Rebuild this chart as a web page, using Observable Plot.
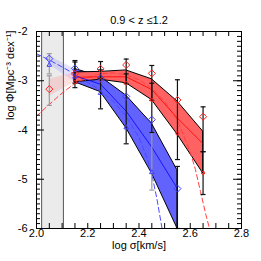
<!DOCTYPE html>
<html><head><meta charset="utf-8">
<script src="https://cdn.jsdelivr.net/npm/d3@7"></script>
<script src="https://cdn.jsdelivr.net/npm/@observablehq/plot@0.6"></script>
<style>body{margin:0;background:#fff} svg{display:block}</style>
</head><body><div id="chart"></div>
<script>
// ---- text ----
const title = "0.9 < z \u22641.2";
const xLabel = "log \u03c3[km/s]";
const yLabel = "log \u03a6[Mpc\u207b\u00b3 dex\u207b\u00b9]";

// ---- ticks ----
const xMajor = [2.0, 2.2, 2.4, 2.6, 2.8];
const xMinor = d3.range(0, 17).map(i => +(2.0 + i * 0.05).toFixed(2));
const yMajor = [-2, -3, -4, -5, -6];
const yMinor = d3.range(0, 41).map(i => +(-6 + i * 0.1).toFixed(1));

// ---- shaded excluded region ----
const shadeEdges = [2.02, 2.105];

// ---- band sigma bins ----
const bandX = [2.15, 2.25, 2.35, 2.45, 2.55];
const blueUpper = [-2.76, -2.92, -3.30, -3.87, -4.82];
const blueLower = [-3.03, -3.23, -3.96, -4.88, -6.00];
const blueMid   = [-2.90, -3.07, -3.62, -4.35, -5.19];

const redBandX = [2.15, 2.25, 2.35, 2.45, 2.55, 2.65];
const redUpper = [-2.83, -2.82, -2.79, -2.97, -3.42, -4.03];
const redLower = [-3.03, -2.98, -3.05, -3.39, -4.09, -4.88];
const redMid   = [-2.93, -2.92, -2.92, -3.18, -3.76, -4.28];

// faded bands inside excluded region
const fadedX = [2.05, 2.15];
const blueFadedUpper = [-2.50, -2.76];
const blueFadedLower = [-2.67, -3.03];
const redFadedUpper = [-2.97, -2.83];
const redFadedLower = [-3.32, -3.03];

// ---- points ----
const ptX = [2.05, 2.15, 2.25, 2.35, 2.45, 2.55, 2.65];
const redDiamond = [-3.17, -2.86, -2.76, -2.68, -2.85, -3.39, -3.73];
const blueDiamond = [-2.55, -2.75, -2.95, -3.32, -3.79, -5.19];
const blueTriangle = [-2.68, -2.92, -3.25, -3.95, -4.86];
const redCircleX = [2.15, 2.25, 2.35, 2.45, 2.55, 2.65];
const redCircle = [-3.03, -2.99, -3.05, -3.39, -4.07, -4.87];

// ---- error bars ----
const barX  = [2.15, 2.15, 2.25, 2.25, 2.35, 2.35, 2.45, 2.45, 2.55, 2.55, 2.65, 2.65];
const barLo = [-3.14, -3.05, -2.95, -3.57, -3.06, -4.28, -3.40, -4.05, -4.60, -6.00, -4.44, -5.31];
const barHi = [-2.62, -2.59, -2.61, -2.78, -2.56, -2.86, -2.69, -3.05, -2.98, -4.74, -3.53, -4.44];
const grayBarX  = [2.05, 2.05, 2.45];
const grayBarLo = [-2.86, -3.50, -5.22];
const grayBarHi = [-2.45, -2.90, -4.05];

// ---- model curves (dashed) ----
const blueFitX = [2.0, 2.05, 2.1, 2.15, 2.2, 2.25, 2.3, 2.35, 2.4, 2.43, 2.45, 2.47, 2.49];
const blueFitY = [-2.45, -2.58, -2.72, -2.87, -3.03, -3.20, -3.42, -3.72, -4.15, -4.55, -4.90, -5.40, -6.00];
const redFitX = [2.0, 2.05, 2.1, 2.15, 2.2, 2.25, 2.3, 2.35, 2.4, 2.45, 2.5, 2.55, 2.6, 2.62, 2.64, 2.66, 2.675];
const redFitY = [-3.72, -3.48, -3.25, -3.05, -2.93, -2.86, -2.84, -2.88, -2.98, -3.15, -3.42, -3.80, -4.45, -4.80, -5.25, -5.70, -6.00];

// ---- tables ----
const zip2 = (xs, ys) => ys.map((y, i) => ({x: xs[i], y}));
const band = (xs, lo, hi) => xs.map((x, i) => ({x, lo: lo[i], hi: hi[i]}));
const blueBand = band(bandX, blueLower, blueUpper);
const redBand = band(redBandX, redLower, redUpper);
const blueFaded = band(fadedX, blueFadedLower, blueFadedUpper);
const redFaded = band(fadedX, redFadedLower, redFadedUpper);
const bars = band(barX, barLo, barHi);
const grayBars = band(grayBarX, grayBarLo, grayBarHi);
const caps = bars.flatMap(d => [{x: d.x, y: d.lo}, {x: d.x, y: d.hi}]);
const grayCaps = grayBars.flatMap(d => [{x: d.x, y: d.lo}, {x: d.x, y: d.hi}]);

const W = 261, H = 261, mL = 36, mR = 20, mT = 31, mB = 33;
const iw = W - mL - mR, ih = H - mT - mB;
const font = "'Liberation Sans', Arial, Helvetica, sans-serif";
const capSymbol = {draw(ctx) { ctx.moveTo(-2.5, 0); ctx.lineTo(2.5, 0); }};
const BLUE = "#6262ff", RED = "#ff6262";

const plot = Plot.plot({
  width: W, height: H,
  marginLeft: mL, marginRight: mR, marginTop: mT, marginBottom: mB,
  style: {fontFamily: font, fontSize: "11px", background: "white", color: "black"},
  x: {domain: [2.0, 2.8]},
  y: {domain: [-6, -2]},
  marks: [
    Plot.rect([shadeEdges], {x1: d => d[0], x2: d => d[1], fill: "#ebebeb"}),
    Plot.ruleX(shadeEdges, {stroke: "#555", strokeWidth: 1}),
    Plot.areaY(blueFaded, {x: "x", y1: "lo", y2: "hi", fill: BLUE, fillOpacity: 0.18}),
    Plot.areaY(redFaded, {x: "x", y1: "lo", y2: "hi", fill: RED, fillOpacity: 0.2}),
    Plot.areaY(blueBand, {x: "x", y1: "lo", y2: "hi", fill: BLUE, stroke: "black", strokeWidth: 1, clip: true}),
    Plot.areaY(redBand, {x: "x", y1: "lo", y2: "hi", fill: RED, stroke: "black", strokeWidth: 1, clip: true}),
    Plot.line(zip2(blueFitX, blueFitY), {x: "x", y: "y", stroke: "#4a4aff", strokeDasharray: "5,3", strokeWidth: 1, clip: true}),
    Plot.line(zip2(redFitX, redFitY), {x: "x", y: "y", stroke: "#ff4040", strokeDasharray: "5,3", strokeWidth: 1, clip: true}),
    Plot.line(zip2(bandX, blueMid), {x: "x", y: "y", stroke: "#0000ff", strokeWidth: 0.8}),
    Plot.line(zip2(redBandX, redMid), {x: "x", y: "y", stroke: "#ff0000", strokeWidth: 0.8}),
    Plot.ruleX(grayBars, {x: "x", y1: "lo", y2: "hi", stroke: "#9a9a9a", strokeWidth: 1.2}),
    Plot.dot(grayCaps, {x: "x", y: "y", symbol: capSymbol, fill: "none", stroke: "#9a9a9a", strokeWidth: 1.2}),
    Plot.ruleX(bars, {x: "x", y1: "lo", y2: "hi", stroke: "#111", strokeWidth: 1.2, clip: true}),
    Plot.dot(caps, {x: "x", y: "y", symbol: capSymbol, fill: "none", stroke: "#111", strokeWidth: 1.2}),
    Plot.dot(zip2(ptX, blueTriangle), {x: "x", y: "y", symbol: "triangle2", r: 2.2, stroke: "#4040ff", strokeWidth: 1}),
    Plot.dot(zip2(redCircleX, redCircle), {x: "x", y: "y", symbol: "circle", r: 1.6, fill: "none", stroke: "#ff2020", strokeWidth: 1}),
    Plot.dot(zip2(ptX, blueDiamond), {x: "x", y: "y", symbol: "diamond2", r: 3.2, stroke: "#4040ff", strokeWidth: 1}),
    Plot.dot(zip2(ptX, redDiamond), {x: "x", y: "y", symbol: "diamond2", r: 3.2, stroke: "#ff2020", strokeWidth: 1}),
    // ticks inside the frame
    Plot.tickX(xMinor, {x: d => d, insetTop: ih - 5, stroke: "black"}),
    Plot.tickX(xMinor, {x: d => d, insetBottom: ih - 5, stroke: "black"}),
    Plot.tickY(yMinor, {y: d => d, insetRight: iw - 4, stroke: "black"}),
    Plot.tickY(yMinor, {y: d => d, insetLeft: iw - 4, stroke: "black"}),
    Plot.tickY(yMajor, {y: d => d, insetRight: iw - 8, stroke: "black"}),
    Plot.tickY(yMajor, {y: d => d, insetLeft: iw - 8, stroke: "black"}),
    Plot.frame({stroke: "black", strokeWidth: 1}),
    Plot.axisX(xMajor, {tickSize: 0, tickPadding: 1, tickFormat: d => d.toFixed(1), label: null, fontSize: 11}),
    Plot.axisY(yMajor, {tickSize: 0, tickPadding: 9, tickFormat: d => String(d), label: null, fontSize: 11}),
    Plot.text([title], {frameAnchor: "top", dy: -15, fontSize: 11}),
    Plot.text([xLabel], {frameAnchor: "bottom", dy: 20, fontSize: 11}),
    Plot.text([yLabel], {frameAnchor: "left", rotate: -90, dx: -26, dy: -10, fontSize: 11})
  ]
});

document.getElementById("chart").appendChild(plot);
</script>
</body></html>
